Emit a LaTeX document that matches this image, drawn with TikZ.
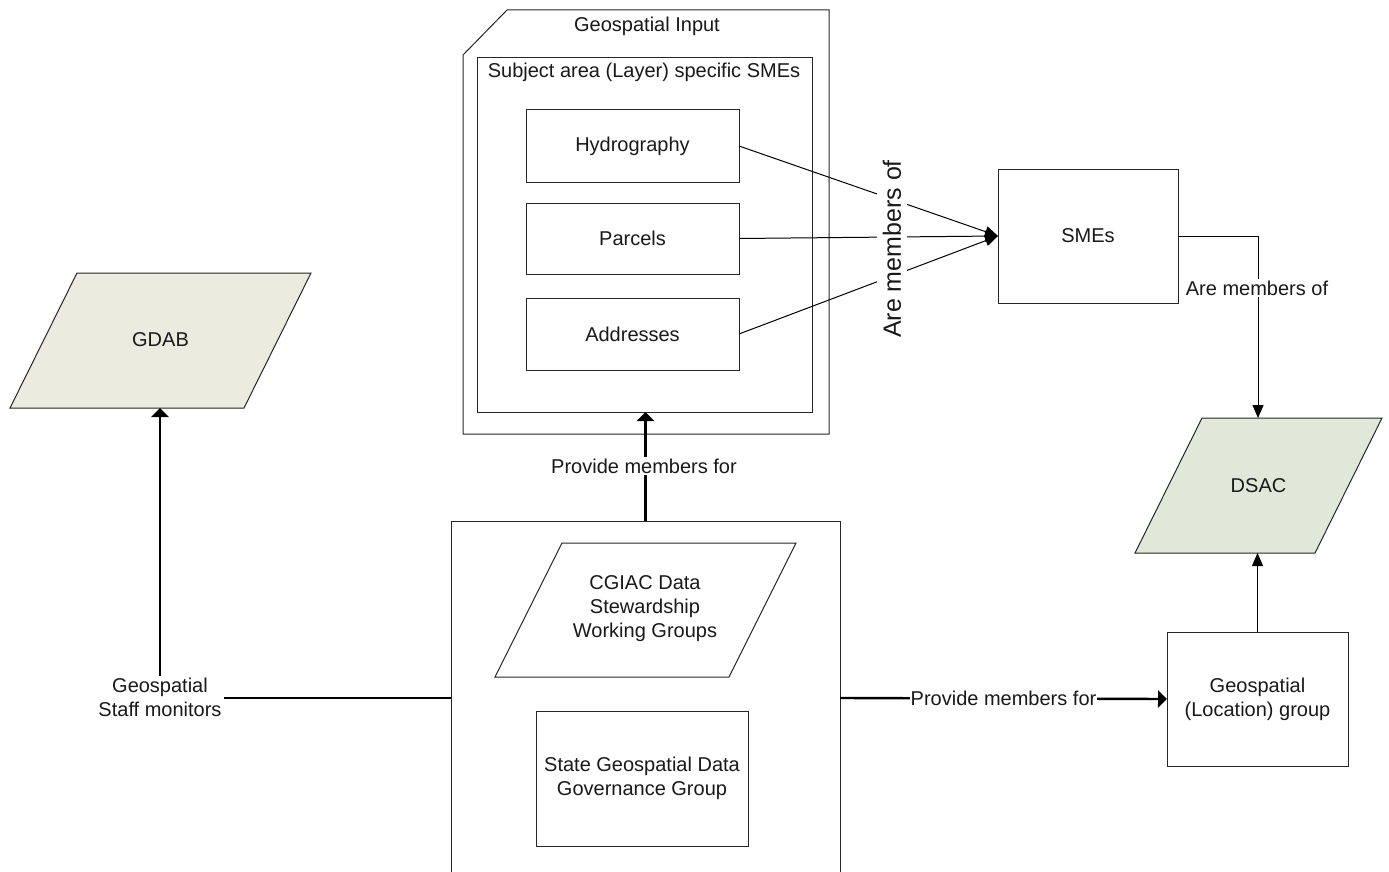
\documentclass[tikz,border=0pt]{standalone}
\usepackage{fontspec}
\setmainfont{Liberation Sans}
\usetikzlibrary{arrows.meta,calc}
\definecolor{gdabfill}{HTML}{EBEBE0}
\definecolor{dsacfill}{HTML}{E0E8DA}
\begin{document}
\begin{tikzpicture}[x=1pt,y=-1pt,
  every node/.style={font=\fontsize{20}{24}\selectfont, text=black!90},
  box/.style={draw=black!85, line width=1pt, inner sep=0pt, outer sep=0pt, fill=white, align=center},
  para/.style={draw=black!85, line width=1pt},
  thinarrow/.style={draw=black, line width=1pt, -{Triangle[length=13pt,width=11pt]}},
  thickarrow/.style={draw=black, line width=2.4pt, -{Triangle[length=9pt,width=17pt]}},
  lbl/.style={fill=white, inner sep=2pt, align=center},
]
\useasboundingbox (0,0) rectangle (1389,872);
\clip (0,0) rectangle (1389,872);
\fill[white] (0,0) rectangle (1389,872);

% Geospatial Input (cut-corner container)
\draw[black!85, line width=1pt] (507,10) -- (829,10) -- (829,434) -- (463,434) -- (463,55) -- cycle;
\node (gi) at (647,26) {Geospatial Input};
\node[box, minimum width=335pt, minimum height=354pt, anchor=north west] (subj) at (477,58) {};
\node (subjt) at (644,72) {Subject area (Layer) specific SMEs};
\node[box, minimum width=213pt, minimum height=72pt] (hyd) at (632.5,146) {Hydrography};
\node[box, minimum width=213pt, minimum height=71pt] (par) at (632.5,238.5) {Parcels};
\node[box, minimum width=213pt, minimum height=72pt] (adr) at (632.5,334) {Addresses};

% SMEs
\node[box, minimum width=180pt, minimum height=134pt] (sme) at (1088,236) {SMEs};

% DSAC
\draw[para, fill=dsacfill] (1202,418) -- (1382,418) -- (1315,553) -- (1135,553) -- cycle;
\node (dsac) at (1258.5,486) {DSAC};
\coordinate (dsacT) at (1258,418);
\coordinate (dsacB) at (1257.5,553);

% GDAB
\draw[para, fill=gdabfill] (77,273) -- (311,273) -- (244,408) -- (10,408) -- cycle;
\node (gdab) at (160.5,340) {GDAB};
\coordinate (gdabB) at (160,408);

% Geospatial (Location) group
\node[box, minimum width=181pt, minimum height=134pt] (loc) at (1257.5,699) {Geospatial\\(Location) group};

% Big bottom container
\node[box, minimum width=389pt, minimum height=380pt, anchor=north] (big) at (645.5,521) {};
\draw[para, fill=white] (562,543) -- (796,543) -- (729,677) -- (495,677) -- cycle;
\node[align=center] (cgiac) at (645,609) {CGIAC Data\\Stewardship\\Working Groups};
\node[box, minimum width=212pt, minimum height=135pt] (state) at (642,778.5) {State Geospatial Data\\Governance Group};
\coordinate (bw) at ([yshift=13pt]big.west);
\coordinate (be) at ([yshift=13pt]big.east);

% Connectors: layers -> SMEs
\draw[thinarrow] (hyd.east) -- (sme.west);
\draw[thinarrow] (par.east) -- (sme.west);
\draw[thinarrow] (adr.east) -- (sme.west);
\node[rotate=90, font=\fontsize{25}{30}\selectfont, fill=white, inner xsep=2pt, inner ysep=6pt] (am1) at (892,249) {Are members of};

% SMEs -> DSAC
\draw[thinarrow] (sme.east) -- (sme.east -| dsacT) -- (dsacT);
\node[lbl] (am2) at (1257,288) {Are members of};

% Location group -> DSAC
\draw[thinarrow] (loc.north) -- (dsacB);

% Big -> Geospatial Input
\draw[thickarrow] (big.north) -- (big.north |- subj.south);
\node[lbl] (pm1) at (644,466) {Provide members for};

% Big -> Location group
\draw[thickarrow] (be) -- (loc.west);
\node[fill=white, inner xsep=1pt, inner ysep=2pt] (pm2) at (1003.5,698) {Provide members for};

% Big -> GDAB
\draw[thickarrow] (bw) -- (bw -| gdabB) -- (gdabB);
\node[lbl] (gsm) at (160,697) {Geospatial\\Staff monitors};
\end{tikzpicture}
\end{document}
